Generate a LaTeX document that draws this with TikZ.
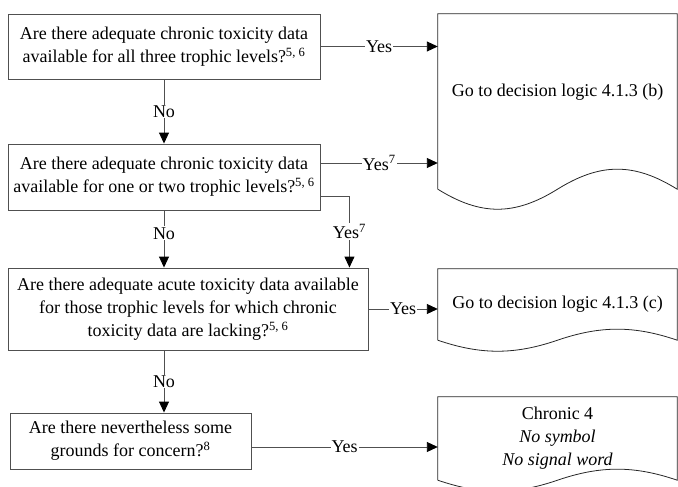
\documentclass[tikz,border=0pt]{standalone}
\usepackage{fontspec}
\setmainfont{Liberation Serif}
\usepackage{tikz}
\usetikzlibrary{arrows.meta}
\definecolor{linegray}{HTML}{505050}
\tikzset{
  dl box/.style={draw=linegray,line width=.9pt,align=center,inner sep=1pt,minimum height=#1},
  dl doc/.style={draw=none,minimum width=239pt,minimum height=#1,inner sep=0pt,align=center},
  dl outline/.style={draw=black!85,line width=.8pt},
  dl flow/.style={draw=linegray,line width=.9pt,-{Triangle[length=11pt,width=10pt,color=black]}},
  dl tag/.style={fill=white,inner sep=1pt}
}
\begin{document}
\begin{tikzpicture}[x=1pt,y=-1pt,font=\fontsize{18}{23}\selectfont]
  \useasboundingbox (0,0) rectangle (678,487);
  \clip (0,0) rectangle (678,487);
  \node[dl box=65pt,minimum width=312pt] (q1) at (164,46.5)
    {Are there adequate chronic toxicity data\\available for all three trophic levels?\textsuperscript{5, 6}};
  \node[dl box=66pt,minimum width=312pt] (q2) at (164,177)
    {Are there adequate chronic toxicity data\\available for one or two trophic levels?\textsuperscript{5, 6}};
  \node[dl box=82pt,minimum width=360pt] (q3) at (188,309)
    {Are there adequate acute toxicity data available\\for those trophic levels for which chronic\\toxicity data are lacking?\textsuperscript{5, 6}};
  \node[dl box=56pt,minimum width=241pt] (q4) at (130.5,441)
    {Are there nevertheless some\\grounds for concern?\textsuperscript{8}};
  \node[dl doc=175pt] (d1) at (557.5,101.5) {};
  \node (d1text) at ([yshift=9.5pt]d1.center) {Go to decision logic 4.1.3 (b)};
  \node[dl doc=71pt] (d2) at (557.5,304.5) {Go to decision logic 4.1.3 (c)};
  \node[dl doc=83pt] (d3) at (557.5,438.5) {Chronic 4\\\textit{No symbol}\\\textit{No signal word}};
  \foreach \d/\a in {d1/26.7,d2/14.7,d3/14.7}
    \draw[dl outline] (\d.south west) -- (\d.north west) -- (\d.north east) -- (\d.south east)
      .. controls +(-43,-\a) and +(43,-\a) .. (\d.south)
      .. controls +(-43,\a) and +(43,\a) .. (\d.south west);
  \coordinate (q2hi) at ([yshift=14pt]q2.east);
  \coordinate (q2lo) at ([yshift=-19pt]q2.east);
  \coordinate (q4out) at ([yshift=-6pt]q4.east);
  \draw[dl flow] (q1) -- node[dl tag]{No} (q2);
  \draw[dl flow] (q1.east) -- node[dl tag]{Yes} (q1.east -| d1.west);
  \draw[dl flow] (q2hi) -- node[dl tag]{Yes\textsuperscript{7}} (q2hi -| d1.west);
  \draw[dl flow] (q2lo) -| node[dl tag,pos=.75]{Yes\textsuperscript{7}} ([xshift=-19pt]q3.north east);
  \draw[dl flow] (q2.south) -- node[dl tag,pos=.4]{No} (q2.south |- q3.north);
  \draw[dl flow] (q2.south |- q3.south) -- node[dl tag]{No} (q2.south |- q4.north);
  \draw[dl flow] (q3.east) -- node[dl tag]{Yes} (q3.east -| d2.west);
  \draw[dl flow] (q4out) -- node[dl tag]{Yes} (q4out -| d3.west);
\end{tikzpicture}
\end{document}
